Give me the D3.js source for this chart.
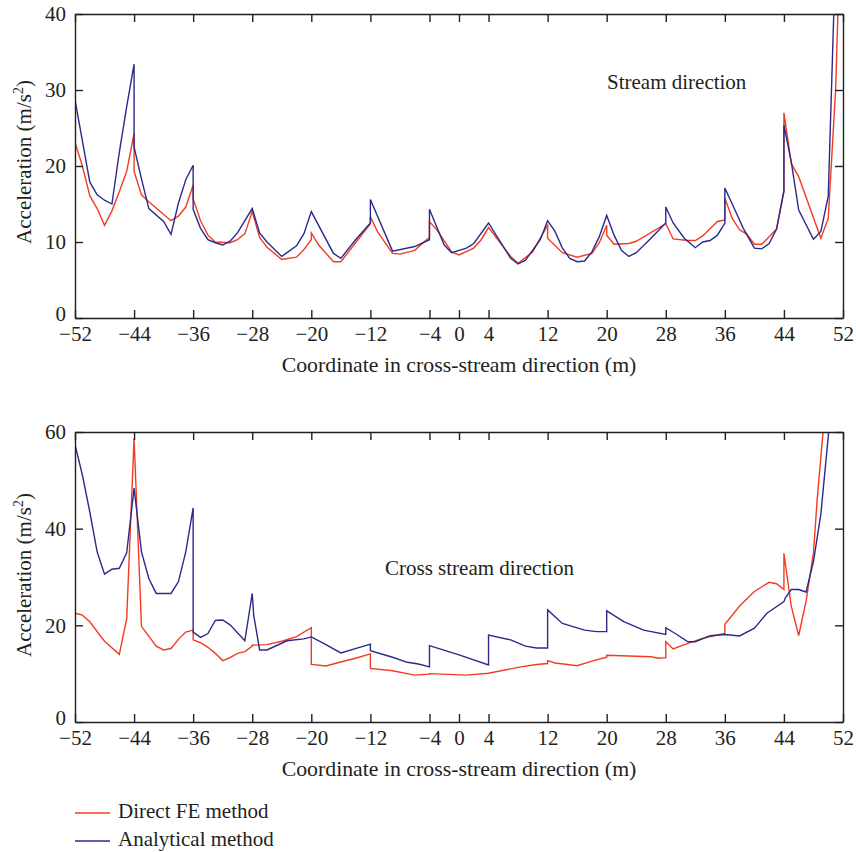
<!DOCTYPE html>
<html>
<head>
<meta charset="utf-8">
<script src="https://cdn.jsdelivr.net/npm/d3@7"></script>
<style>
  html, body { margin: 0; padding: 0; background: #fff; }
  svg text { font-family: "Liberation Serif", "Times New Roman", serif; fill: #231f20; }
</style>
</head>
<body>
<svg id="chart" width="856" height="852"></svg>
<script>
// Cross-stream coordinate ticks (m)
const xTicks = [-52, -44, -36, -28, -20, -12, -4, 0, 4, 12, 20, 28, 36, 44, 52];
const streamYTicks = [0, 10, 20, 30, 40];
const crossYTicks = [0, 20, 40, 60];

const seriesNames = ["Direct FE method", "Analytical method"];
const seriesColors = ["#f23c22", "#2b2a8c"];

// Stream direction: [coordinate (m), acceleration (m/s²)]
const streamFE = [
  [-52, 23.1], [-51, 20.0], [-50, 16.1], [-49, 14.4], [-48, 12.2], [-47, 14.1], [-46, 16.6], [-45, 19.3],
  [-44, 24.3], [-44, 19.3], [-43, 16.2], [-42, 15.3], [-39, 12.8], [-38, 13.4], [-37, 14.6], [-36, 17.5],
  [-36, 15.7], [-35, 12.8], [-34, 10.9], [-33, 10.0], [-31, 9.9], [-30, 10.3], [-29, 11.1], [-28, 14.0],
  [-27, 10.6], [-26, 9.3], [-24, 7.7], [-22, 8.0], [-21, 9.0], [-20, 10.3], [-20, 11.2], [-19, 9.6],
  [-17, 7.4], [-16, 7.4], [-14, 9.9], [-12, 12.4], [-12, 13.3], [-11, 11.3], [-9, 8.5], [-8, 8.4],
  [-6, 8.9], [-4.4, 10.3], [-4, 10.6], [-4, 12.7], [-3, 11.6], [-1, 8.7], [0, 8.3], [2, 9.2],
  [3, 10.3], [4, 11.9], [7, 8.1], [8, 7.2], [10, 8.7], [11, 10.5], [12, 12.2], [12, 10.5],
  [14, 8.6], [16, 8.0], [18, 8.5], [19, 9.9], [20, 12.2], [20, 10.9], [21, 9.7], [23, 9.8],
  [24, 10.1], [28, 12.4], [29, 10.4], [31, 10.2], [32, 10.2], [33, 10.8], [35, 12.7], [36, 12.9],
  [36, 15.8], [37, 13.1], [38, 11.6], [39, 11.0], [40, 9.7], [41, 9.7], [42, 10.7], [43, 11.7],
  [44, 16.6], [44, 27.0], [45, 20.3], [46, 18.6], [49, 10.5], [50, 13.1], [51, 30.0], [52, 62.0]
];
const streamAnalytical = [
  [-52, 28.7], [-50, 17.9], [-49, 16.2], [-48, 15.5], [-47, 15.0], [-46, 21.8], [-45, 27.8], [-44, 33.4],
  [-44, 22.5], [-43, 18.3], [-42, 14.4], [-40, 12.7], [-39, 11.0], [-38, 15.1], [-37, 18.2], [-36, 20.1],
  [-36, 14.3], [-35, 11.8], [-34, 10.3], [-33, 9.9], [-32, 9.6], [-31, 10.1], [-30, 11.2], [-28, 14.4],
  [-27, 11.2], [-26, 10.0], [-24, 8.1], [-22, 9.5], [-21, 11.1], [-20, 14.0], [-17, 8.5], [-16, 7.85],
  [-14, 10.3], [-12, 12.5], [-12, 15.6], [-9, 8.8], [-6, 9.4], [-4, 10.3], [-4, 14.3], [-2, 9.6],
  [-1, 8.6], [1, 9.2], [2, 9.8], [4, 12.5], [7, 7.85], [8, 7.1], [9, 7.6], [11, 10.3],
  [12, 12.8], [13, 11.4], [14, 9.2], [15, 7.85], [16, 7.4], [17, 7.5], [18, 8.7], [19, 10.7],
  [20, 13.5], [21, 10.9], [22, 8.9], [23, 8.1], [24, 8.6], [26, 10.5], [28, 12.5], [28, 14.6],
  [29, 12.5], [30.5, 10.5], [32, 9.25], [33, 10.0], [34, 10.2], [35, 10.9], [36, 12.5], [36, 17.1],
  [37, 15.0], [38.5, 11.8], [40, 9.2], [41, 9.1], [42, 9.8], [43, 11.7], [44, 16.8], [44, 25.4],
  [45, 20.5], [46, 14.2], [48, 10.35], [49, 11.4], [50, 16.0], [51, 48.0], [52, 80.0]
];

// Cross stream direction: [coordinate (m), acceleration (m/s²)]
const crossFE = [
  [-52, 22.5], [-51, 22.1], [-50, 20.75], [-48, 16.7], [-46, 14.0], [-45, 21.4], [-44, 58.7], [-43, 19.8],
  [-41, 15.7], [-40, 14.9], [-39, 15.2], [-38, 17.1], [-37, 18.6], [-36, 19.0], [-36, 17.0], [-35, 16.4],
  [-34, 15.45], [-33, 14.2], [-32, 12.7], [-31, 13.3], [-30, 14.2], [-29, 14.55], [-28, 15.7], [-28, 15.9],
  [-26, 16.0], [-24, 16.7], [-22, 17.65], [-20, 19.5], [-20, 11.9], [-18, 11.6], [-16.3, 12.3], [-14, 13.2],
  [-12, 14.1], [-12, 11.1], [-9, 10.6], [-6, 9.7], [-4, 9.9], [-4, 10.0], [1, 9.7], [4, 10.1],
  [8, 11.3], [10.5, 11.9], [12, 12.1], [12, 12.7], [13, 12.2], [16, 11.65], [18, 12.6], [20, 13.4],
  [20, 13.8], [22, 13.7], [26, 13.5], [27, 13.2], [28, 13.3], [28, 16.6], [29, 15.1], [30.5, 16.0],
  [33, 17.3], [35, 18.0], [36, 18.35], [36, 20.2], [38, 24.0], [40, 27.0], [42, 28.9], [43, 28.6],
  [44, 27.4], [44, 34.9], [45, 23.9], [46, 17.9], [47, 25.0], [48, 35.0], [48.5, 46.0], [49.3, 60.0],
  [50, 75.0]
];
const crossAnalytical = [
  [-52, 57.4], [-51, 51.1], [-50, 43.5], [-49, 35.2], [-48, 30.6], [-47, 31.6], [-46, 31.8], [-45, 35.0],
  [-44, 48.4], [-43, 35.2], [-42, 29.7], [-41, 26.6], [-39, 26.6], [-38, 29.0], [-37, 35.2], [-36, 44.3],
  [-36, 18.6], [-35, 17.5], [-34, 18.3], [-33, 21.0], [-32, 21.1], [-31, 20.1], [-29, 16.8], [-28, 26.6],
  [-27.8, 22.1], [-27, 14.9], [-26, 14.9], [-23.3, 16.8], [-21, 17.2], [-20, 17.6], [-18.4, 16.3], [-16, 14.3],
  [-12, 16.1], [-12, 14.75], [-9, 13.4], [-7, 12.35], [-5.5, 12.0], [-4, 11.4], [-4, 15.8], [0, 13.9],
  [4, 11.8], [4, 18.0], [7, 17.0], [9, 15.7], [10.5, 15.3], [12, 15.3], [12, 23.2], [14, 20.4],
  [17, 19.0], [18.6, 18.7], [20, 18.7], [20, 23.0], [22.3, 20.75], [25, 19.0], [28, 18.1], [28, 19.5],
  [29.5, 18.1], [31, 16.6], [32, 16.6], [34, 17.85], [36, 18.1], [38, 17.8], [40, 19.4], [41.7, 22.5],
  [44, 24.9], [44.2, 25.7], [45, 27.4], [46, 27.4], [47, 26.9], [48, 33.2], [49, 43.0], [50, 59.0],
  [51, 80.0]
];

const svg = d3.select("#chart");
const FONT = 21;
const TITLE_FONT = 21.8;

function drawPanel(cfg) {
  const { top, bottom, left, right, yMax, yTicks, series, note, clipId, titleY } = cfg;
  const x = d3.scaleLinear().domain([-52, 52]).range([left, right]);
  const y = d3.scaleLinear().domain([0, yMax]).range([bottom, top]);
  const g = svg.append("g");

  g.append("clipPath").attr("id", clipId)
    .append("rect").attr("x", left).attr("y", top)
    .attr("width", right - left).attr("height", bottom - top);

  const line = d3.line().x(d => x(d[0])).y(d => y(d[1]));
  const plot = g.append("g").attr("clip-path", `url(#${clipId})`);
  series.forEach((s, i) => {
    plot.append("path").datum(s)
      .attr("fill", "none")
      .attr("stroke", seriesColors[i])
      .attr("stroke-width", 1.4)
      .attr("stroke-linejoin", "miter")
      .attr("d", line);
  });

  const tick = -8;
  const styleAxis = sel => {
    sel.selectAll("path, line").attr("stroke", "#231f20").attr("stroke-width", 1.4);
    sel.selectAll("text").attr("font-size", FONT).attr("font-family", "Liberation Serif").attr("fill", "#231f20");
  };
  g.append("g").attr("transform", `translate(0,${bottom})`)
    .call(d3.axisBottom(x).tickValues(xTicks).tickSize(tick).tickSizeOuter(0).tickPadding(8))
    .call(styleAxis);
  g.append("g").attr("transform", `translate(0,${top})`)
    .call(d3.axisTop(x).tickValues(xTicks).tickSize(tick).tickSizeOuter(0).tickFormat(""))
    .call(styleAxis);
  const yAxis = g.append("g").attr("transform", `translate(${left},0)`)
    .call(d3.axisLeft(y).tickValues(yTicks).tickSize(tick).tickSizeOuter(0).tickPadding(9))
    .call(styleAxis);
  // the zero label sits just above the first x label
  yAxis.selectAll(".tick text").filter(d => d === 0).attr("dy", "0.1em");
  g.append("g").attr("transform", `translate(${right},0)`)
    .call(d3.axisRight(y).tickValues(yTicks).tickSize(tick).tickSizeOuter(0).tickFormat(""))
    .call(styleAxis);

  // Axis titles
  g.append("text")
    .attr("x", (left + right) / 2).attr("y", bottom + 54)
    .attr("text-anchor", "middle").attr("font-size", TITLE_FONT)
    .text("Coordinate in cross-stream direction (m)");
  const yt = g.append("text")
    .attr("transform", `translate(31,${titleY}) rotate(-90)`)
    .attr("text-anchor", "middle").attr("font-size", FONT);
  yt.append("tspan").text("Acceleration (m/s");
  yt.append("tspan").attr("font-size", 14).attr("dy", -8).text("2");
  yt.append("tspan").attr("dy", 8).text(")");

  g.append("text").attr("x", note.x).attr("y", note.y)
    .attr("font-size", FONT).text(note.text);
}

drawPanel({
  top: 14, bottom: 318, left: 75, right: 843, yMax: 40, yTicks: streamYTicks,
  series: [streamFE, streamAnalytical], clipId: "clip-stream", titleY: 162,
  note: { x: 607, y: 89, text: "Stream direction" }
});
drawPanel({
  top: 432, bottom: 722, left: 75, right: 843, yMax: 60, yTicks: crossYTicks,
  series: [crossFE, crossAnalytical], clipId: "clip-cross", titleY: 575,
  note: { x: 385, y: 575, text: "Cross stream direction" }
});

// Legend
const legend = svg.append("g");
seriesNames.forEach((name, i) => {
  const ly = 813 + i * 28;
  legend.append("line").attr("x1", 75).attr("x2", 110).attr("y1", ly).attr("y2", ly)
    .attr("stroke", seriesColors[i]).attr("stroke-width", 1.4);
  legend.append("text").attr("x", 118).attr("y", ly + 5).attr("font-size", FONT).text(name);
});
</script>
</body>
</html>
